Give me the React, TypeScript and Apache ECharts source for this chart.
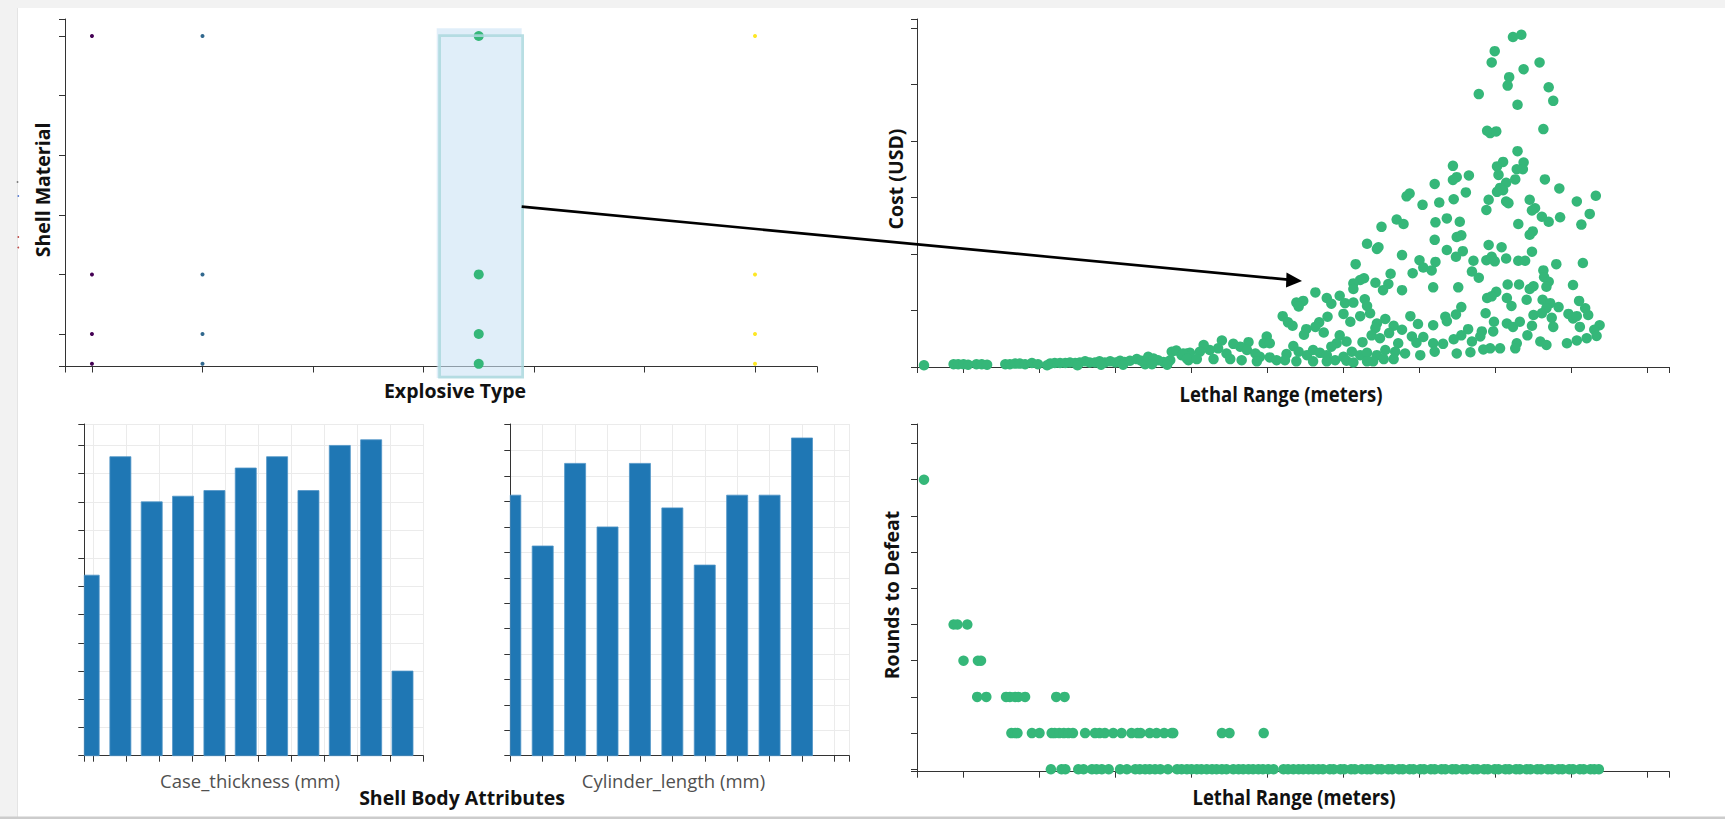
import React, { useEffect, useRef } from "react";
import * as echarts from "echarts";

// ---------- Top-left: Shell Material vs Explosive Type ----------
const explosiveTypes = [0, 1, 3.5, 6];
const explosiveColors = ["#440154", "#31688e", "#35b779", "#fde725"];
const explosiveSizes = [4, 4, 10, 4];
const shellMaterialLevels = [5, 1, 0, -0.5];
const explosiveTicks = [-0.244, 0, 1, 2, 3, 4, 5, 6, 6.561];
const materialTicks = [-0.545, 0, 1, 2, 3, 4, 5, 5.285];

// ---------- Bottom-left: histograms ----------
const caseThicknessBins = [-0.14, 0.82, 1.77, 2.72, 3.67, 4.62, 5.57, 6.52, 7.47, 8.42, 9.37];
const caseThicknessCounts = [32, 53, 45, 46, 47, 51, 53, 47, 55, 56, 15];
const caseTicksX = [-0.273, 0, 1, 2, 3, 4, 5, 6, 7, 8, 9, 10];
const caseTicksY = [0, 5, 10, 15, 20, 25, 30, 35, 40, 45, 50, 55, 58.8];

const cylinderLengthBins = [0, 1, 2, 3, 4, 5, 6, 7, 8, 9];
const cylinderLengthCounts = [41, 33, 46, 36, 46, 39, 30, 41, 41, 50];
const cylTicksX = [0, 1, 2, 3, 4, 5, 6, 7, 8, 9, 10, 10.46];
const cylTicksY = [0, 4, 8, 12, 16, 20, 24, 28, 32, 36, 40, 44, 48, 52.2];

// ---------- Top-right: Cost vs Lethal Range ----------
const lethalTicks = [3.88, 10, 20, 30, 40, 50, 60, 70, 80, 90, 100, 102.87];
const costTicks = [0, 100, 200, 300, 400, 500, 600, 615.9];
const costPoints: [number, number][] = [
  [4.8, 3], [8.7, 5], [9.3, 5], [10.0, 5], [10.6, 4], [11.7, 5], [12.4, 5], [13.1, 4], [15.5, 5], [16.1, 5],
  [16.8, 6], [17.4, 6], [18.1, 5], [19.0, 7], [19.8, 5], [21.4, 6], [22.0, 7], [22.7, 7], [23.4, 7], [24.0, 8],
  [24.7, 7], [25.3, 8], [26.0, 10], [26.6, 8], [27.3, 8], [27.9, 10], [28.6, 8], [29.3, 10], [30.0, 8], [30.6, 11],
  [31.2, 9], [31.9, 11], [32.8, 14], [33.4, 11], [33.9, 5], [34.3, 18], [35.0, 15], [35.6, 12], [36.3, 9], [37.2, 12],
  [37.4, 27], [38.0, 29], [38.7, 21], [39.4, 24], [39.6, 12], [21.0, 3], [25.0, 3], [28.1, 4], [31.0, 4], [34.8, 5], [36.8, 4],
  [67.0, 261], [65.0, 248], [63.1, 218], [64.4, 209], [64.6, 212], [61.6, 182], [66.2, 165], [62.7, 157], [62.2, 154], [61.3, 148],
  [64.2, 149], [65.9, 147], [65.2, 136], [61.3, 138], [56.3, 132], [57.8, 122], [59.5, 126], [58.4, 112], [53.8, 114], [54.7, 117],
  [54.1, 107], [60.2, 113], [61.3, 114], [62.8, 120], [63.1, 108], [63.5, 95], [62.2, 90], [60.0, 94], [60.9, 80], [57.9, 89],
  [56.8, 79], [56.3, 71], [57.4, 61], [55.1, 67], [54.8, 57], [52.0, 90], [52.7, 79], [53.3, 73], [65.5, 85], [64.4, 77],
  [64.2, 69], [66.6, 73], [59.5, 56], [59.1, 42], [58.4, 36], [60.4, 45], [62.5, 44], [63.7, 56], [64.8, 51], [66.0, 60],
  [67.2, 42], [53.4, 37], [52.5, 23], [54.1, 27], [55.2, 21], [56.0, 30], [56.9, 25], [57.8, 21], [58.9, 12], [60.0, 18],
  [61.1, 27], [62.2, 21], [63.1, 25], [64.4, 21], [65.5, 30], [66.8, 27], [49.9, 54], [49.5, 42], [50.3, 42], [47.5, 44],
  [46.4, 36], [45.5, 41], [44.0, 47], [43.5, 33], [44.6, 24], [42.4, 30], [41.6, 39], [41.1, 27], [39.8, 25], [38.9, 24],
  [47.3, 30], [48.4, 24], [49.0, 18], [50.3, 17], [51.2, 12], [52.3, 12], [39.4, 15], [40.7, 14], [42.9, 14], [45.1, 14],
  [46.6, 12], [48.6, 10], [60.4, 11], [65.3, 14], [66.6, 14], [63.9, 10], [56.0, 10], [53.8, 10], [57.8, 10], [61.3, 8], [63.1, 10],
  [82.3, 584], [83.4, 588], [79.9, 559], [79.5, 539], [85.8, 539], [83.7, 527], [81.8, 513], [81.6, 498], [77.8, 483], [87.0, 495],
  [87.6, 471], [82.9, 464], [78.9, 418], [79.3, 414], [80.1, 417], [86.3, 421], [82.9, 382], [81.0, 363], [80.2, 355], [83.7, 362],
  [82.8, 350], [83.6, 350], [80.4, 340], [82.6, 332], [86.5, 332], [88.4, 316], [81.4, 326], [80.6, 317], [81.0, 313], [74.4, 356],
  [74.9, 336], [74.4, 331], [76.5, 339], [72.0, 324],
  [68.7, 307], [68.3, 302], [70.4, 287], [72.6, 291], [74.5, 297], [76.1, 309], [79.1, 296], [78.8, 278], [80.2, 310], [81.4, 293],
  [81.7, 290], [84.5, 296], [85.2, 281], [84.8, 277], [86.1, 266], [87.0, 257], [88.5, 265], [90.7, 293], [93.2, 303], [92.4, 271],
  [91.3, 252], [67.9, 253], [72.1, 256], [73.6, 263], [75.3, 257], [72.0, 225], [74.9, 230], [75.5, 233], [73.6, 207], [74.8, 195],
  [75.7, 205], [79.1, 216], [80.8, 212], [83.0, 253], [84.9, 240], [84.5, 234], [84.8, 204], [67.7, 198], [70.0, 189], [70.5, 176],
  [69.1, 166], [71.6, 171], [72.1, 186], [77.1, 188], [76.9, 169], [77.8, 158], [78.8, 189], [79.5, 195], [79.9, 187], [81.4, 192],
  [83.0, 188], [83.9, 188], [86.3, 171], [86.4, 159], [87.0, 151], [86.7, 142], [88.0, 182], [91.5, 184], [67.7, 136], [71.8, 141],
  [75.1, 141], [81.6, 146], [83.1, 146], [84.5, 138], [85.0, 143], [80.1, 133], [78.9, 122], [79.5, 125], [81.5, 122], [82.1, 108],
  [84.1, 119], [86.2, 119], [87.2, 113], [88.3, 106], [86.7, 104], [90.2, 145], [91.0, 117], [91.8, 104], [92.2, 92], [78.7, 95],
  [68.8, 90], [69.8, 76], [71.8, 74], [73.4, 89], [73.6, 81], [74.8, 93], [75.5, 106], [76.4, 67], [75.5, 56], [76.9, 45],
  [78.2, 63], [79.8, 80], [79.7, 63], [81.5, 77], [82.3, 71], [83.2, 80], [84.8, 73], [85.0, 92], [86.1, 95], [87.4, 87],
  [87.6, 71], [89.6, 94], [90.2, 86], [91.1, 71], [90.7, 90], [93.7, 74], [93.0, 66], [93.3, 55], [92.0, 51], [90.7, 47],
  [89.4, 42], [85.9, 45], [86.7, 39], [84.2, 56], [82.8, 42], [82.6, 33], [80.6, 33], [79.3, 33], [78.4, 31], [78.0, 54],
  [67.7, 66], [69.0, 54], [70.5, 53], [69.6, 43], [71.8, 42], [73.1, 41], [74.5, 49], [74.9, 24], [76.7, 26], [72.0, 27],
  [68.1, 24], [70.1, 21],
];

// ---------- Bottom-right: Rounds to Defeat vs Lethal Range ----------
const roundsTicks = [-0.066, 0, 1, 2, 3, 4, 5, 6, 7, 8, 9, 9.54];
const rounds8Lethal = [4.8];
const rounds4Lethal = [8.7, 9.2, 10.5];
const rounds3Lethal = [10.0, 11.9, 12.3];
const rounds2Lethal = [11.8, 13.0, 15.6, 16.1, 16.8, 17.2, 18.1, 22.2, 23.3];
const rounds1Lethal = [16.3, 16.8, 17.1, 19.0, 20.0, 21.6, 22.0, 22.6, 23.2, 23.8, 24.4, 26.0, 27.3, 27.9, 28.6, 29.7, 30.8,
  32.1, 32.9, 33.3, 34.5, 35.4, 36.4, 37.4, 37.6, 44.0, 45.0, 49.5];
const rounds0Lethal = [21.5, 22.9, 23.4, 25.1, 25.8, 26.9, 27.5, 28.2, 29.1, 30.6, 31.5, 32.6, 33.2, 33.9, 34.5, 35.2, 35.9,
  36.9, 38.1, 38.7, 39.4, 40.0, 40.7, 41.3, 42.0, 42.7, 43.3, 44.0, 44.6, 45.5, 46.2, 46.8, 47.5, 48.1, 48.8, 49.4, 50.1,
  50.8, 52.1, 52.7, 53.4, 54.1, 54.7, 55.4, 56.0, 56.7, 57.3, 58.2, 58.7, 59.6, 60.1, 61.0, 61.5, 62.4, 63.1, 63.6, 64.5,
  65.0, 65.9, 66.4, 67.3, 67.8, 68.7, 69.2, 70.1, 70.6, 71.5, 72.0, 72.9, 73.4, 74.3, 74.8, 75.7, 76.2, 77.1, 77.6, 78.5,
  79.0, 79.9, 80.4, 81.3, 81.8, 82.7, 83.2, 84.1, 84.6, 85.5, 86.0, 86.9, 87.4, 88.3, 88.8, 89.7, 90.2, 91.1, 91.6, 92.5,
  93.0, 93.6];

const GREEN = "#35b779";
const AXIS = "#333333";
const FONT = "'Open Sans', 'Noto Sans', sans-serif";
const BAR_W = 21;

function valueAxis(gridIndex: number, min: number, max: number, ticks: number[], grid = false) {
  return {
    type: "value",
    gridIndex,
    min,
    max,
    axisLine: { show: true, onZero: false, lineStyle: { color: AXIS, width: 1 } },
    axisTick: { show: true, inside: false, length: 6, customValues: ticks, lineStyle: { color: AXIS, width: 1 } },
    axisLabel: { show: false },
    splitLine: { show: grid, lineStyle: { color: "#ebebeb", width: 1 } },
  };
}

// histogram bar drawn through the axes' scales, clipped to the plot area
function renderBar(params: any, api: any) {
  const x = api.value(0);
  const y = api.value(1);
  const top = api.coord([x, y]);
  const base = api.coord([x, 0]);
  const rect = { x: top[0] - BAR_W / 2, y: top[1], width: BAR_W, height: base[1] - top[1] };
  const cs = params.coordSys;
  const clipped = echarts.graphic.clipRectByRect(rect, { x: cs.x, y: cs.y, width: cs.width, height: cs.height });
  if (!clipped) return null;
  return {
    type: "rect",
    shape: clipped,
    style: { fill: "#1f77b4", stroke: "#4f94c6", lineWidth: 0.8 },
  };
}

export default function App() {
  const ref = useRef<HTMLDivElement>(null);

  useEffect(() => {
    if (!ref.current) return;
    const chart = echarts.init(ref.current, undefined, { renderer: "svg" });

    const roundsData: [number, number][] = [
      ...rounds8Lethal.map((x) => [x, 8] as [number, number]),
      ...rounds4Lethal.map((x) => [x, 4] as [number, number]),
      ...rounds3Lethal.map((x) => [x, 3] as [number, number]),
      ...rounds2Lethal.map((x) => [x, 2] as [number, number]),
      ...rounds1Lethal.map((x) => [x, 1] as [number, number]),
      ...rounds0Lethal.map((x) => [x, 0] as [number, number]),
    ];

    const topLeftSeries = explosiveTypes.map((t, i) => ({
      type: "scatter",
      xAxisIndex: 0,
      yAxisIndex: 0,
      symbolSize: explosiveSizes[i],
      itemStyle: { color: explosiveColors[i], opacity: 1 },
      data: shellMaterialLevels.map((m) => [t, m]),
      z: 3,
    }));

    const titleStyle = (text: string, fontSize = 19.5, weight: any = "bold", fill = "#111") => ({
      text,
      fill,
      font: `${weight} ${fontSize}px ${FONT}`,
      align: "center",
      verticalAlign: "middle",
    });

    const option: any = {
      animation: false,
      backgroundColor: "#ffffff",
      grid: [
        { left: 65, top: 19, width: 752, height: 347.5, containLabel: false, outerBoundsMode: "none" },
        { left: 84.3, top: 424, width: 339, height: 331.7, containLabel: false, outerBoundsMode: "none" },
        { left: 510.3, top: 424, width: 339, height: 331.7, containLabel: false, outerBoundsMode: "none" },
        { left: 917, top: 19, width: 752.3, height: 348, containLabel: false, outerBoundsMode: "none" },
        { left: 917, top: 424, width: 752.3, height: 347.7, containLabel: false, outerBoundsMode: "none" },
      ],
      xAxis: [
        valueAxis(0, -0.244, 6.561, explosiveTicks),
        valueAxis(1, -0.273, 10, caseTicksX, true),
        valueAxis(2, 0, 10.46, cylTicksX, true),
        valueAxis(3, 3.88, 102.87, lethalTicks),
        valueAxis(4, 3.88, 102.87, lethalTicks),
      ],
      yAxis: [
        valueAxis(0, -0.545, 5.285, materialTicks),
        valueAxis(1, 0, 58.8, caseTicksY, true),
        valueAxis(2, 0, 52.2, cylTicksY, true),
        valueAxis(3, 0, 615.9, costTicks),
        valueAxis(4, -0.066, 9.54, roundsTicks),
      ],
      series: [
        ...topLeftSeries,
        {
          type: "custom",
          xAxisIndex: 1,
          yAxisIndex: 1,
          renderItem: renderBar,
          encode: { x: 0, y: 1 },
          data: caseThicknessBins.map((b, i) => [b, caseThicknessCounts[i]]),
        },
        {
          type: "custom",
          xAxisIndex: 2,
          yAxisIndex: 2,
          renderItem: renderBar,
          encode: { x: 0, y: 1 },
          data: cylinderLengthBins.map((b, i) => [b, cylinderLengthCounts[i]]),
        },
        {
          type: "scatter",
          xAxisIndex: 3,
          yAxisIndex: 3,
          symbolSize: 10.5,
          itemStyle: { color: GREEN, opacity: 1 },
          data: costPoints,
        },
        {
          type: "scatter",
          xAxisIndex: 4,
          yAxisIndex: 4,
          symbolSize: 10.5,
          itemStyle: { color: GREEN, opacity: 1 },
          data: roundsData,
        },
      ],
      graphic: [
        // page frame
        { type: "rect", silent: true, z: 0, shape: { x: 0, y: 0, width: 1725, height: 8 }, style: { fill: "#f2f2f2" } },
        { type: "rect", silent: true, z: 0, shape: { x: 0, y: 0, width: 17, height: 819 }, style: { fill: "#f2f2f2" } },
        { type: "line", silent: true, z: 0, shape: { x1: 17.5, y1: 8, x2: 17.5, y2: 817 }, style: { stroke: "#e4e4e4", lineWidth: 1 } },
        { type: "rect", silent: true, z: 0, shape: { x: 0, y: 816.5, width: 1725, height: 2.5 }, style: { fill: "#cccccc" } },
        // tiny clipped marks at left edge
        { type: "circle", silent: true, shape: { cx: 17.5, cy: 182, r: 0.9 }, style: { fill: "#777" } },
        { type: "circle", silent: true, shape: { cx: 18.3, cy: 196, r: 0.9 }, style: { fill: "#5b7fd4" } },
        { type: "circle", silent: true, shape: { cx: 18.3, cy: 237, r: 0.9 }, style: { fill: "#c0504d" } },
        { type: "circle", silent: true, shape: { cx: 18.3, cy: 247.5, r: 0.9 }, style: { fill: "#c0504d" } },
        // selection box
        { type: "rect", silent: true, z: 1, shape: { x: 436.7, y: 28.3, width: 85, height: 349.7 }, style: { fill: "rgba(203,227,245,0.6)" } },
        { type: "rect", silent: true, z: 10, shape: { x: 439.6, y: 35.6, width: 83, height: 341.5 }, style: { fill: "none", stroke: "rgba(172,216,222,0.85)", lineWidth: 2.8 } },
        // arrow
        { type: "line", silent: true, z: 10, shape: { x1: 521.7, y1: 206.7, x2: 1288, y2: 279.6 }, style: { stroke: "#000", lineWidth: 2.7 } },
        { type: "polygon", silent: true, z: 10, shape: { points: [[1302, 281], [1286.5, 272.5], [1286, 287.5]] }, style: { fill: "#000" } },
        // titles
        { type: "text", silent: true, z: 10, x: 455, y: 390, style: titleStyle("Explosive Type") },
        { type: "text", silent: true, z: 10, x: 42, y: 190, rotation: Math.PI / 2, style: titleStyle("Shell Material") },
        { type: "text", silent: true, z: 10, x: 895, y: 179, rotation: Math.PI / 2, style: titleStyle("Cost (USD)") },
        { type: "text", silent: true, z: 10, x: 1281, y: 393, scaleY: 1.2, style: titleStyle("Lethal Range (meters)", 18.5) },
        { type: "text", silent: true, z: 10, x: 891, y: 595, rotation: Math.PI / 2, style: titleStyle("Rounds to Defeat") },
        { type: "text", silent: true, z: 10, x: 1294, y: 796, scaleY: 1.2, style: titleStyle("Lethal Range (meters)", 18.5) },
        { type: "text", silent: true, z: 10, x: 250, y: 780, style: titleStyle("Case_thickness (mm)", 18.5, "normal", "#505050") },
        { type: "text", silent: true, z: 10, x: 673.5, y: 780, style: titleStyle("Cylinder_length (mm)", 18.5, "normal", "#505050") },
        { type: "text", silent: true, z: 10, x: 462, y: 797, style: titleStyle("Shell Body Attributes") },
      ],
    };

    chart.setOption(option);
    return () => chart.dispose();
  }, []);

  return (
    <div
      ref={ref}
      style={{ position: "fixed", left: 0, top: 0, width: 1725, height: 819, background: "#ffffff" }}
    />
  );
}
